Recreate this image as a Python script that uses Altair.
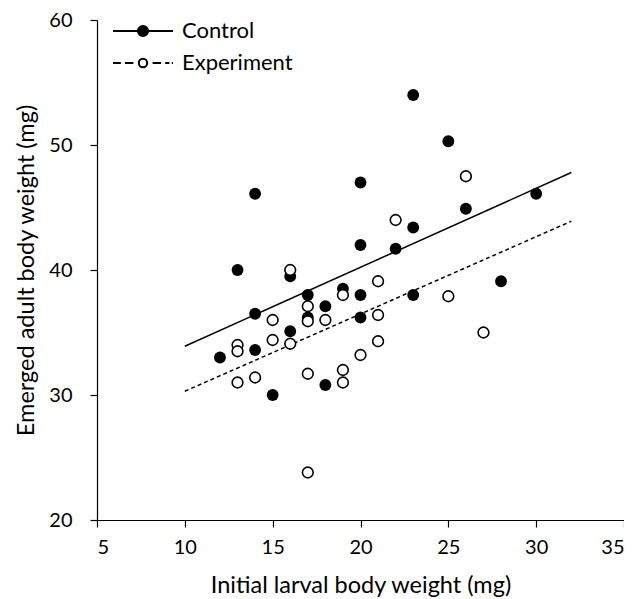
import altair as alt
import pandas as pd

# ---- data ----
groups = ["Control", "Experiment"]

control_x = [12, 13, 14, 14, 14, 15, 16, 16, 17, 17, 18, 18, 19, 20, 20, 20, 20, 22, 23, 23, 23, 25, 26, 28, 30]
control_y = [33.0, 40.0, 46.1, 36.5, 33.6, 30.0, 39.5, 35.1, 38.0, 36.2, 37.1, 30.8, 38.5, 47.0, 42.0, 38.0,
             36.2, 41.7, 54.0, 43.4, 38.0, 50.3, 44.9, 39.1, 46.1]

exp_x = [13, 13, 13, 14, 15, 15, 16, 16, 17, 17, 17, 17, 18, 19, 19, 19, 20, 21, 21, 21, 22, 25, 26, 27]
exp_y = [34.0, 33.5, 31.0, 31.4, 36.0, 34.4, 40.0, 34.1, 37.1, 35.9, 31.7, 23.8, 36.0, 38.0, 32.0, 31.0,
         33.2, 39.1, 36.4, 34.3, 44.0, 37.9, 47.5, 35.0]

fit_x = [10, 32]
control_fit = [33.9, 47.8]
exp_fit = [30.3, 43.9]

x_ticks = [5, 10, 15, 20, 25, 30, 35]
y_ticks = [20, 30, 40, 50, 60]

FONT = "Lato"

ctrl_df = pd.DataFrame({"x": control_x, "y": control_y, "group": "Control"})
exp_df = pd.DataFrame({"x": exp_x, "y": exp_y, "group": "Experiment"})
fit_df = pd.concat([
    pd.DataFrame({"x": fit_x, "y": control_fit, "group": "Control"}),
    pd.DataFrame({"x": fit_x, "y": exp_fit, "group": "Experiment"}),
])
legend_df = pd.DataFrame({"group": groups})

xs = alt.Scale(domain=[5, 35], nice=False, zero=False)
ys = alt.Scale(domain=[20, 60], nice=False, zero=False)

x_enc = alt.X("x:Q", scale=xs, axis=alt.Axis(values=x_ticks, title="Initial larval body weight (mg)"))
y_enc = alt.Y("y:Q", scale=ys, axis=alt.Axis(values=y_ticks, title="Emerged adult body weight (mg)"))

ctrl_line = alt.Chart(fit_df).transform_filter(alt.datum.group == "Control").mark_line(
    color="black", strokeWidth=1.5).encode(x=x_enc, y=y_enc)
exp_line = alt.Chart(fit_df).transform_filter(alt.datum.group == "Experiment").mark_line(
    color="black", strokeWidth=1.5, strokeDash=[4, 3]).encode(x=x_enc, y=y_enc)

ctrl_pts = alt.Chart(ctrl_df).mark_circle(size=140, color="black", opacity=1).encode(x=x_enc, y=y_enc)
exp_pts = alt.Chart(exp_df).mark_point(shape="circle", size=115, filled=False, fill="white",
                                       fillOpacity=1, stroke="black", strokeWidth=1.6,
                                       opacity=1).encode(x=x_enc, y=y_enc)

path_control = "M-5,0L-1,0M0.85,0L5,0M-0.85,0A0.85,0.85,0,1,1,0.85,0A0.85,0.85,0,1,1,-0.85,0Z"
path_exp = ("M-5,0L-3.7,0M-3,0L-1.6,0M-0.7,0A0.7,0.7,0,1,1,0.7,0A0.7,0.7,0,1,1,-0.7,0Z"
            "M1.6,0L3,0M3.7,0L4.4,0M4.8,0L5,0")

leg = alt.Legend(title=None, orient="none", legendX=35, legendY=0, symbolSize=144,
                 symbolStrokeWidth=2, symbolOpacity=1, labelFont=FONT, labelFontSize=22,
                 labelColor="black", labelOffset=28, rowPadding=10, padding=0)

legend_layer = alt.Chart(legend_df).mark_point(filled=True, opacity=0, size=144).encode(
    shape=alt.Shape("group:N", scale=alt.Scale(domain=groups, range=[path_control, path_exp]), legend=leg),
    fill=alt.Fill("group:N", scale=alt.Scale(domain=groups, range=["black", "white"]), legend=leg),
    stroke=alt.Stroke("group:N", scale=alt.Scale(domain=groups, range=["black", "black"]), legend=leg),
)

chart = alt.layer(ctrl_line, exp_line, ctrl_pts, exp_pts, legend_layer).properties(
    width=527, height=500,
    autosize=alt.AutoSizeParams(type="none"),
    padding={"left": 89, "top": 12, "right": 0, "bottom": 79},
).configure_view(stroke=None).configure_axis(
    grid=False, domainColor="black", domainWidth=1.2, tickColor="black", tickWidth=1.2, tickSize=7,
    labelFont=FONT, labelFontSize=20, labelColor="black",
    titleFont=FONT, titleFontSize=23.5, titleFontWeight="normal", titleColor="black",
).configure_axisX(labelPadding=10, titlePadding=16).configure_axisY(labelPadding=18, titlePadding=10)

chart.save("out.html", embed_options={"renderer": "svg", "actions": False})
